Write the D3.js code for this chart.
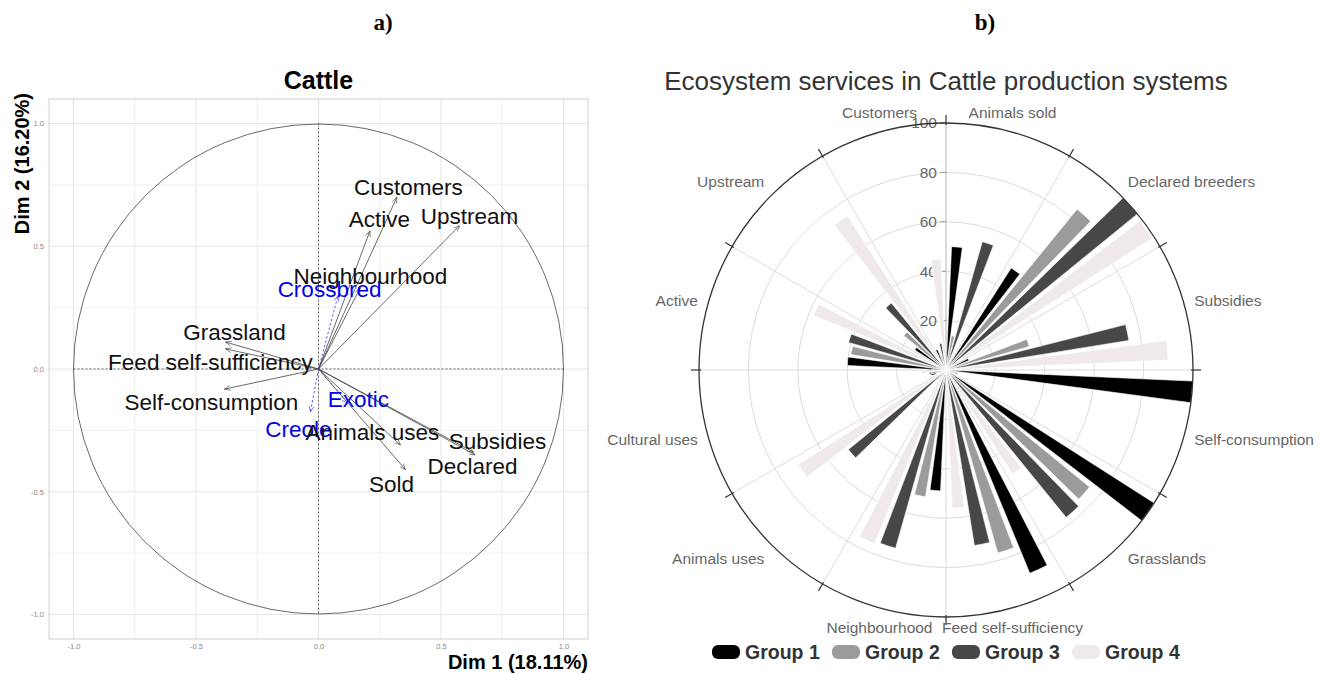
<!DOCTYPE html>
<html>
<head>
<meta charset="utf-8">
<script src="https://cdn.jsdelivr.net/npm/d3@7"></script>
<style>
	body { margin: 0; background: #fff; }
	svg { display: block; font-family: 'Liberation Sans', Arial, sans-serif; }
</style>
</head>
<body>
<svg id="fig" width="1321" height="674"></svg>
<script>
// ---- panel a) PCA correlation circle ----
const pcaVars = ['Customers', 'Active', 'Upstream', 'Neighbourhood', 'Grassland', 'Feed self-sufficiency',
	'Self-consumption', 'Animals uses', 'Sold', 'Subsidies', 'Declared']
const pcaDim1 = [0.32, 0.21, 0.576, 0.17, -0.38, -0.38, -0.384, 0.335, 0.355, 0.633, 0.64]
const pcaDim2 = [0.70, 0.563, 0.584, 0.33, 0.11, 0.082, -0.082, -0.31, -0.41, -0.339, -0.35]
// label anchors (data units, repelled like ggrepel)
const pcaLabelDim1 = [0.367, 0.249, 0.616, 0.212, -0.343, -0.441, -0.437, 0.220, 0.298, 0.731, 0.629]
const pcaLabelDim2 = [0.743, 0.612, 0.624, 0.380, 0.151, 0.029, -0.135, -0.257, -0.469, -0.294, -0.396]

const suppVars = ['Crossbred', 'Exotic', 'Creole']
const suppDim1 = [0.08, 0.12, -0.033]
const suppDim2 = [0.30, -0.14, -0.175]
const suppLabelDim1 = [0.045, 0.163, -0.082]
const suppLabelDim2 = [0.327, -0.122, -0.245]

const pcaTicks = [-1, -0.5, 0, 0.5, 1]

// ---- panel b) polar bar chart ----
const categories = ['Animals sold', 'Declared breeders', 'Subsidies', 'Self-consumption', 'Grasslands',
	'Feed self-sufficiency', 'Neighbourhood', 'Animals uses', 'Cultural uses', 'Active', 'Upstream', 'Customers']
const groups = ['Group 1', 'Group 2', 'Group 3', 'Group 4']
const group1 = [50, 49, 10, 100, 100, 89, 49, 3, 2, 40, 15, 9]
const group2 = [14, 84, 35, 3, 75, 77, 52, 5, 3, 39, 22, 6]
const group3 = [54, 100, 75, 5, 77, 72, 75, 51, 6, 41, 35, 11]
const group4 = [8, 99, 90, 10, 50, 56, 76, 71, 10, 58, 74, 45]
const radialTicks = [0, 20, 40, 60, 80, 100]

const svg = d3.select('#fig')
const fmt = d => d.toFixed(1)

// panel letters
svg.append('text').attr('x', 383).attr('y', 30).attr('text-anchor', 'middle')
	.style('font-family', "'Liberation Serif', 'Times New Roman', serif").style('font-weight', 'bold').style('font-size', '23px')
	.text('a)')
svg.append('text').attr('x', 985).attr('y', 30).attr('text-anchor', 'middle')
	.style('font-family', "'Liberation Serif', 'Times New Roman', serif").style('font-weight', 'bold').style('font-size', '23px')
	.text('b)')

//-------------------PCA----------------------------------
const x = d3.scaleLinear().domain([-1.1, 1.1]).range([49, 588])
const y = d3.scaleLinear().domain([-1.1, 1.1]).range([639, 99])
const pca = svg.append('g')

const gridVals = d3.range(-1, 1.01, 0.25)
const gridColor = d => Math.abs(d * 2 - Math.round(d * 2)) < 1e-6 ? '#e4e4e4' : '#efefef'
pca.append('g').selectAll('line').data(gridVals).join('line')
	.attr('x1', d => x(d)).attr('x2', d => x(d)).attr('y1', y(-1.1)).attr('y2', y(1.1))
	.attr('stroke', gridColor)
pca.append('g').selectAll('line').data(gridVals).join('line')
	.attr('y1', d => y(d)).attr('y2', d => y(d)).attr('x1', x(-1.1)).attr('x2', x(1.1))
	.attr('stroke', gridColor)
pca.append('rect').attr('x', x(-1.1)).attr('y', y(1.1)).attr('width', x(1.1) - x(-1.1)).attr('height', y(-1.1) - y(1.1))
	.attr('fill', 'none').attr('stroke', '#cfcfcf')

const xAxis = pca.append('g').attr('transform', `translate(0,${y(-1.1)})`)
	.call(d3.axisBottom(x).tickValues(pcaTicks).tickFormat(fmt).tickSize(0).tickPadding(5))
const yAxis = pca.append('g').attr('transform', `translate(${x(-1.1)},0)`)
	.call(d3.axisLeft(y).tickValues(pcaTicks).tickFormat(fmt).tickSize(0).tickPadding(5))
for (const ax of [xAxis, yAxis]) {
	ax.select('.domain').remove()
	ax.selectAll('text').style('font-size', '7.5px').attr('fill', '#8a8a8a').style('font-family', "'Liberation Sans', Arial")
}

// unit circle and dashed axes
pca.append('circle').attr('cx', x(0)).attr('cy', y(0)).attr('r', x(1) - x(0))
	.attr('fill', 'none').attr('stroke', '#444').attr('stroke-width', 0.8)
pca.append('line').attr('x1', x(-1)).attr('x2', x(1)).attr('y1', y(0)).attr('y2', y(0))
	.attr('stroke', '#444').attr('stroke-dasharray', '2,2').attr('stroke-width', 0.8)
pca.append('line').attr('x1', x(0)).attr('x2', x(0)).attr('y1', y(1)).attr('y2', y(-1))
	.attr('stroke', '#444').attr('stroke-dasharray', '2,2').attr('stroke-width', 0.8)

const defs = svg.append('defs')
const addMarker = (id, color) => {
	defs.append('marker').attr('id', id).attr('viewBox', '0 0 10 10').attr('refX', 10).attr('refY', 5)
		.attr('markerWidth', 6).attr('markerHeight', 6).attr('markerUnits', 'userSpaceOnUse').attr('orient', 'auto')
		.append('path').attr('d', 'M0,1 L10,5 L0,9').attr('fill', 'none').attr('stroke', color).attr('stroke-width', 1)
}
addMarker('arrowBlack', '#444')
addMarker('arrowBlue', '#3a3aff')

const active = pcaVars.map((name, i) => ({ name, d1: pcaDim1[i], d2: pcaDim2[i], l1: pcaLabelDim1[i], l2: pcaLabelDim2[i] }))
const supp = suppVars.map((name, i) => ({ name, d1: suppDim1[i], d2: suppDim2[i], l1: suppLabelDim1[i], l2: suppLabelDim2[i] }))

pca.append('g').selectAll('line').data(supp).join('line')
	.attr('x1', x(0)).attr('y1', y(0)).attr('x2', d => x(d.d1)).attr('y2', d => y(d.d2))
	.attr('stroke', '#3a3aff').attr('stroke-width', 0.8).attr('stroke-dasharray', '2.5,2')
	.attr('marker-end', 'url(#arrowBlue)')
pca.append('g').selectAll('line').data(active).join('line')
	.attr('x1', x(0)).attr('y1', y(0)).attr('x2', d => x(d.d1)).attr('y2', d => y(d.d2))
	.attr('stroke', '#444').attr('stroke-width', 0.8)
	.attr('marker-end', 'url(#arrowBlack)')

pca.append('g').selectAll('text').data(supp).join('text')
	.attr('x', d => x(d.l1)).attr('y', d => y(d.l2)).attr('dy', '0.35em').attr('text-anchor', 'middle')
	.style('font-size', '22.5px').attr('fill', '#0000ee').text(d => d.name)
pca.append('g').selectAll('text').data(active).join('text')
	.attr('x', d => x(d.l1)).attr('y', d => y(d.l2)).attr('dy', '0.35em').attr('text-anchor', 'middle')
	.style('font-size', '22.5px').attr('fill', '#111').text(d => d.name)

pca.append('text').attr('x', x(0)).attr('y', 89).attr('text-anchor', 'middle')
	.style('font-size', '25px').style('font-weight', 'bold').text('Cattle')
pca.append('text').attr('x', 588).attr('y', 669).attr('text-anchor', 'end')
	.style('font-size', '20px').style('font-weight', 'bold').text('Dim 1 (18.11%)')
pca.append('text').attr('transform', 'translate(29,93) rotate(-90)').attr('text-anchor', 'end')
	.style('font-size', '20px').style('font-weight', 'bold').text('Dim 2 (16.20%)')

//-------------------Polar bars----------------------------------
const cx = 946, cy = 370
const colors = d3.scaleOrdinal().domain(groups).range(['#000000', '#9b9b9b', '#474747', '#efe9e9'])
const r = d3.scaleLinear().domain([0, 100]).range([0, 247])
const x0 = d3.scaleBand().domain(categories).range([0, 2 * Math.PI])
const x1 = d3.scaleBand().domain(groups).range([0, x0.bandwidth()]).paddingInner(0.24).paddingOuter(0.39)
const series = [group1, group2, group3, group4]

const polar = svg.append('g').attr('transform', `translate(${cx},${cy})`)

polar.append('text').attr('x', 0).attr('y', 90 - cy).attr('text-anchor', 'middle')
	.style('font-size', '26px').attr('fill', '#333').text('Ecosystem services in Cattle production systems')

// grid
polar.append('g').selectAll('circle').data(radialTicks.filter(d => d > 0 && d < 100)).join('circle')
	.attr('r', d => r(d)).attr('fill', 'none').attr('stroke', '#dcdcdc')
polar.append('g').selectAll('line').data(categories.slice(1)).join('line')
	.attr('x1', 0).attr('y1', 0)
	.attr('x2', d => r(100) * Math.sin(x0(d))).attr('y2', d => -r(100) * Math.cos(x0(d)))
	.attr('stroke', '#dcdcdc')
polar.append('line').attr('x1', 0).attr('y1', 0).attr('x2', 0).attr('y2', -r(100)).attr('stroke', '#b5b5b5')

// radial axis labels
const rAxis = polar.append('g')
rAxis.selectAll('line').data(radialTicks).join('line')
	.attr('x1', -6).attr('x2', 0).attr('y1', d => -r(d)).attr('y2', d => -r(d)).attr('stroke', '#999')
rAxis.selectAll('text').data(radialTicks).join('text')
	.attr('x', -9).attr('y', d => -r(d)).attr('dy', '0.35em').attr('text-anchor', 'end')
	.style('font-size', '15.5px').attr('fill', '#666').text(d => d)

// bars
const bars = categories.flatMap((c, i) => groups.map((g, j) => ({ c, g, v: series[j][i] })))
const arc = d3.arc()
	.innerRadius(0)
	.outerRadius(d => r(d.v))
	.startAngle(d => x0(d.c) + x1(d.g))
	.endAngle(d => x0(d.c) + x1(d.g) + x1.bandwidth())
polar.append('g').selectAll('path').data(bars).join('path')
	.attr('d', arc).attr('fill', d => colors(d.g)).attr('stroke', '#fff').attr('stroke-width', 0.6)

// outer circle + ticks
polar.append('circle').attr('r', r(100)).attr('fill', 'none').attr('stroke', '#333').attr('stroke-width', 1.3)
polar.append('g').selectAll('line').data(categories).join('line')
	.attr('x1', d => (r(100) - 2) * Math.sin(x0(d))).attr('y1', d => -(r(100) - 2) * Math.cos(x0(d)))
	.attr('x2', d => (r(100) + 8) * Math.sin(x0(d))).attr('y2', d => -(r(100) + 8) * Math.cos(x0(d)))
	.attr('stroke', '#333').attr('stroke-width', 1.2)

// category labels
const labelRx = 257, labelRy = 267
polar.append('g').selectAll('text').data(categories).join('text')
	.each(function (d) {
		const a = x0(d) + x0.bandwidth() / 2
		const s = Math.sin(a)
		d3.select(this)
			.attr('x', labelRx * s).attr('y', -labelRy * Math.cos(a)).attr('dy', '0.35em')
			.attr('text-anchor', s > 0.4 ? 'start' : s < -0.4 ? 'end' : 'middle')
	})
	.style('font-size', '15.5px').attr('fill', '#666').text(d => d)

// legend
const legend = svg.append('g').attr('transform', 'translate(712,645)')
const item = legend.selectAll('g').data(groups).join('g').attr('transform', (d, i) => `translate(${i * 120},0)`)
item.append('rect').attr('width', 28).attr('height', 14).attr('rx', 6).attr('fill', d => colors(d))
item.append('text').attr('x', 33).attr('y', 13.5).style('font-size', '19.5px').style('font-weight', 'bold')
	.attr('fill', '#333').text(d => d)
</script>
</body>
</html>
